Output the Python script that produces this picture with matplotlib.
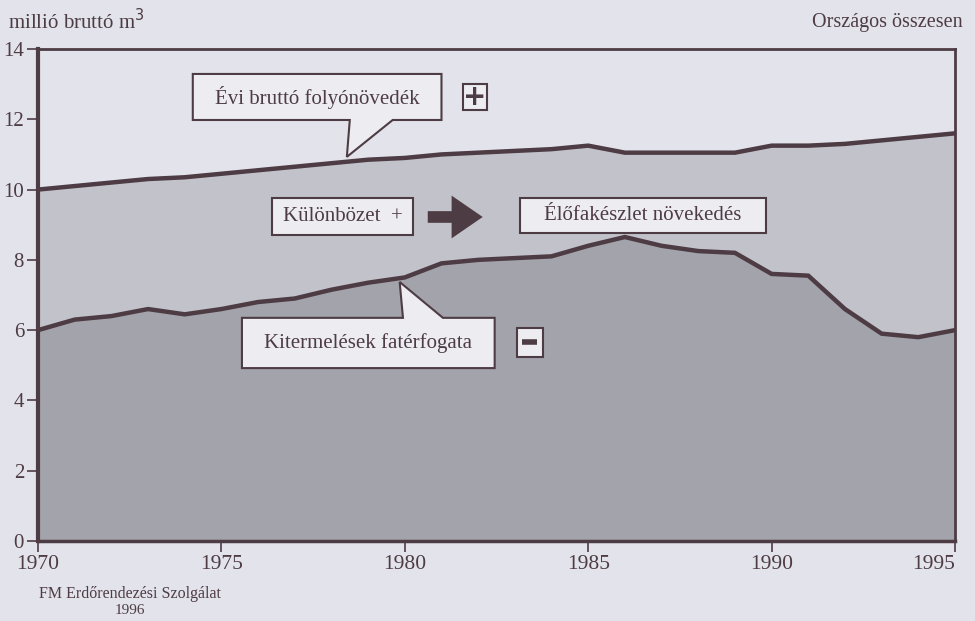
import numpy as np
import matplotlib
matplotlib.use("Agg")
import matplotlib.pyplot as plt
from matplotlib.patches import Polygon, Rectangle, FancyArrowPatch

plt.rcParams['font.family'] = ['Liberation Serif', 'DejaVu Serif']

# data (million gross m3)
years = np.arange(1970, 1996)
growth = [10.0, 10.1, 10.2, 10.3, 10.35, 10.45, 10.55, 10.65, 10.75, 10.85,
          10.9, 11.0, 11.05, 11.1, 11.15, 11.25, 11.05, 11.05, 11.05, 11.05,
          11.25, 11.25, 11.3, 11.4, 11.5, 11.6]
harvest = [6.0, 6.3, 6.4, 6.6, 6.45, 6.6, 6.8, 6.9, 7.15, 7.35,
           7.5, 7.9, 8.0, 8.05, 8.1, 8.4, 8.65, 8.4, 8.25, 8.2,
           7.6, 7.55, 6.6, 5.9, 5.8, 6.0]
xticks = [1970, 1975, 1980, 1985, 1990, 1995]
yticks = [0, 2, 4, 6, 8, 10, 12, 14]

paper = "#e3e3ec"
light = "#c2c2ca"
dark = "#a3a3ab"
ink = "#4e3c44"
boxfill = "#ececf1"

fig = plt.figure(figsize=(9.75, 6.21), dpi=100, facecolor=paper)
ax = fig.add_axes([38/975, 1-541/621, (955-38)/975, (541-49)/621])
ax.set_facecolor(paper)

ax.fill_between(years, 0, growth, color=light, lw=0)
ax.fill_between(years, 0, harvest, color=dark, lw=0)
ax.plot(years, growth, color=ink, lw=3.2, solid_joinstyle='miter')
ax.plot(years, harvest, color=ink, lw=3.2, solid_joinstyle='miter')

ax.set_xlim(1970, 1995)
ax.set_ylim(0, 14)
ax.set_xticks(xticks)
ax.set_yticks(yticks)
ax.tick_params(axis='y', direction='out', length=8, width=1.2, color=ink,
               labelcolor=ink, labelsize=15, pad=2)
ax.tick_params(axis='x', direction='out', length=8, width=1.2, color=ink,
               labelcolor=ink, labelsize=15.5, pad=2)
for side, w in [('left', 3), ('bottom', 2.5), ('top', 2), ('right', 2)]:
    ax.spines[side].set_color(ink)
    ax.spines[side].set_linewidth(w)
xlabels = ax.get_xticklabels()
xlabels[-1].set_horizontalalignment('right')
xlabels[-1].set_x(1995.55)


def callout(x0, x1, y0, y1, pl, pr, tip, below=True):
    if below:
        pts = [(x0, y1), (x1, y1), (x1, y0), (pr, y0), tip, (pl, y0), (x0, y0)]
    else:
        pts = [(x0, y0), (x1, y0), (x1, y1), (pr, y1), tip, (pl, y1), (x0, y1)]
    ax.add_patch(Polygon(pts, closed=True, facecolor=boxfill, edgecolor=ink,
                         lw=1.5, zorder=5))


def box(x0, x1, y0, y1):
    ax.add_patch(Rectangle((x0, y0), x1-x0, y1-y0, facecolor=boxfill,
                           edgecolor=ink, lw=1.5, zorder=5))


tstyle = dict(color=ink, fontsize=15, ha='center', va='center', zorder=6)

# growth callout
callout(1974.22, 1981.0, 11.98, 13.29, 1978.5, 1979.67, (1978.42, 10.93))
ax.text((1974.22+1981.0)/2, 12.63, "Évi bruttó folyónövedék", **tstyle)
box(1981.58, 1982.23, 12.27, 13.0)
ax.text(1981.905, 12.63, "+", color=ink, fontsize=20, fontweight='bold',
        ha='center', va='center', zorder=6, family='DejaVu Sans')

# difference
box(1976.38, 1980.22, 8.71, 9.76)
ax.text(1978.3, 9.23, "Különbözet  +", **tstyle)
ax.add_patch(FancyArrowPatch((1980.55, 9.22), (1982.2, 9.22),
                             arrowstyle="simple,head_width=2.2,head_length=1.6,tail_width=0.6",
                             mutation_scale=14, color=ink, lw=0, zorder=6))
box(1983.13, 1989.86, 8.77, 9.76)
ax.text((1983.13+1989.86)/2, 9.26, "Élőfakészlet növekedés", **tstyle)

# harvest callout
callout(1975.56, 1982.45, 4.92, 6.35, 1979.95, 1981.04, (1979.86, 7.37), below=False)
ax.text((1975.56+1982.45)/2, 5.63, "Kitermelések fatérfogata", **tstyle)
box(1983.05, 1983.76, 5.24, 6.06)
ax.plot([1983.2, 1983.61], [5.65, 5.65], color=ink, lw=4, zorder=6,
        solid_capstyle='butt')

fig.text(8/975, 1-22/621, "millió bruttó m$^3$", color=ink, fontsize=15,
         ha='left', va='center')
fig.text(963/975, 1-22/621, "Országos összesen", color=ink, fontsize=14.5,
         ha='right', va='center')
fig.text(130/975, 1-594/621, "FM Erdőrendezési Szolgálat", color=ink,
         fontsize=11.5, ha='center', va='center')
fig.text(130/975, 1-610/621, "1996", color=ink, fontsize=11,
         ha='center', va='center')

fig.savefig("out.png", dpi=100, facecolor=paper)
